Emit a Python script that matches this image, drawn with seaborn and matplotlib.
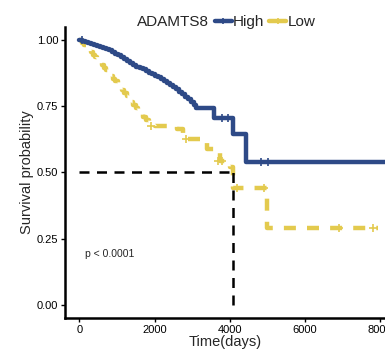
import matplotlib
matplotlib.use("Agg")
import matplotlib.pyplot as plt
import seaborn as sns
import pandas as pd
from matplotlib.lines import Line2D

# ---- data ----
high_time = [0, 80, 160, 240, 320, 400, 480, 560, 640, 720, 800, 880, 960, 1040, 1120,
             1200, 1280, 1360, 1440, 1520, 1600, 1680, 1760, 1840, 1920, 2000, 2080, 2160,
             2240, 2320, 2400, 2480, 2560, 2640, 2720, 2800, 2880, 2960, 3040, 3100, 3570,
             4100, 4420, 8200]
high_surv = [1.0, 0.997, 0.994, 0.99, 0.987, 0.983, 0.98, 0.976, 0.972, 0.967, 0.962,
             0.956, 0.95, 0.944, 0.937, 0.93, 0.922, 0.914, 0.906, 0.9, 0.895, 0.89, 0.884,
             0.878, 0.871, 0.866, 0.86, 0.853, 0.846, 0.838, 0.83, 0.822, 0.815, 0.806,
             0.797, 0.787, 0.777, 0.766, 0.755, 0.745, 0.705, 0.645, 0.54, 0.54]
high_cens_t = [60, 3800, 3950, 4820, 5030]
high_cens_s = [1.0, 0.705, 0.705, 0.54, 0.54]

low_time = [0, 60, 120, 180, 240, 300, 360, 420, 480, 540, 600, 660, 720, 780, 840, 900,
            960, 1020, 1080, 1140, 1200, 1260, 1320, 1380, 1440, 1500, 1560, 1620, 1680,
            1760, 1840, 2000, 2600, 2750, 2900, 3200, 3400, 3600, 3750, 3900, 4000, 4100,
            5000, 7950]
low_surv = [1.0, 0.99, 0.982, 0.973, 0.964, 0.955, 0.946, 0.936, 0.926, 0.916, 0.906,
            0.896, 0.886, 0.876, 0.865, 0.855, 0.845, 0.834, 0.823, 0.812, 0.8, 0.789,
            0.778, 0.767, 0.755, 0.743, 0.731, 0.72, 0.71, 0.698, 0.686, 0.675, 0.665,
            0.64, 0.625, 0.61, 0.59, 0.575, 0.545, 0.53, 0.52, 0.44, 0.29, 0.29]
low_cens_t = [1900, 2850, 3700, 3800, 4200, 4900, 6900, 7800]
low_cens_s = [0.675, 0.625, 0.545, 0.545, 0.44, 0.44, 0.29, 0.29]

median_time = 4100
p_text = "p < 0.0001"
legend_title = "ADAMTS8"
groups = ["High", "Low"]
colors = {"High": "#2E4A87", "Low": "#E3CA4E"}

# ---- plot ----
sns.set_theme(style="white")
plt.rcParams['font.family'] = ['Liberation Sans', 'DejaVu Sans']

fig = plt.figure(figsize=(3.85, 3.52), dpi=100)
ax = fig.add_axes([0.169, 0.097, 0.831, 0.826])

df_high = pd.DataFrame({"t": high_time, "s": high_surv})
df_low = pd.DataFrame({"t": low_time, "s": low_surv})

sns.lineplot(data=df_low, x="t", y="s", drawstyle="steps-post", color=colors["Low"],
             lw=3.2, ax=ax, estimator=None, sort=False)
ax.lines[-1].set_dashes([2.7, 2.5])
sns.lineplot(data=df_high, x="t", y="s", drawstyle="steps-post", color=colors["High"],
             lw=3.2, ax=ax, estimator=None, sort=False)

sns.scatterplot(x=high_cens_t, y=high_cens_s, marker="+", color=colors["High"], s=40,
                linewidth=1.2, ax=ax, zorder=3)
sns.scatterplot(x=low_cens_t, y=low_cens_s, marker="+", color=colors["Low"], s=40,
                linewidth=1.2, ax=ax, zorder=3)

# median lines
ax.plot([0, median_time], [0.5, 0.5], ls=(0, (4, 3)), color="black", lw=1.8)
ax.plot([median_time, median_time], [0, 0.5], ls=(0, (4, 3)), color="black", lw=1.8)

ax.text(150, 0.19, p_text, fontsize=7.5, ha="left", va="center")

ax.set_xlim(-380, 8130)
ax.set_ylim(-0.05, 1.05)
ax.set_xticks([0, 2000, 4000, 6000, 8000])
ax.set_yticks([0, 0.25, 0.5, 0.75, 1.0])
ax.set_yticklabels(["0.00", "0.25", "0.50", "0.75", "1.00"])
ax.set_xlabel("Time(days)", fontsize=10.5, labelpad=0)
ax.set_ylabel("Survival probability", fontsize=10.5, labelpad=2)
ax.tick_params(axis="both", labelsize=8, length=3, width=1, direction="out",
               colors="black", bottom=True, left=True, pad=2)
for side in ["top", "right"]:
    ax.spines[side].set_visible(False)
for side in ["left", "bottom"]:
    ax.spines[side].set_color("black")
    ax.spines[side].set_linewidth(1.8)

# legend at top
fig.text(0.355, 0.937, legend_title, fontsize=11, ha="left", va="center")
handles = [Line2D([], [], color=colors[g], lw=3.2, marker="+", markersize=5,
                  markeredgewidth=1.2) for g in groups]
fig.legend(handles, groups, loc="center left", bbox_to_anchor=(0.558, 0.937), ncol=2,
           frameon=False, fontsize=11, handlelength=1.1, handletextpad=0.1,
           columnspacing=0.3, borderpad=0, borderaxespad=0)

fig.savefig("out.png", dpi=100)
